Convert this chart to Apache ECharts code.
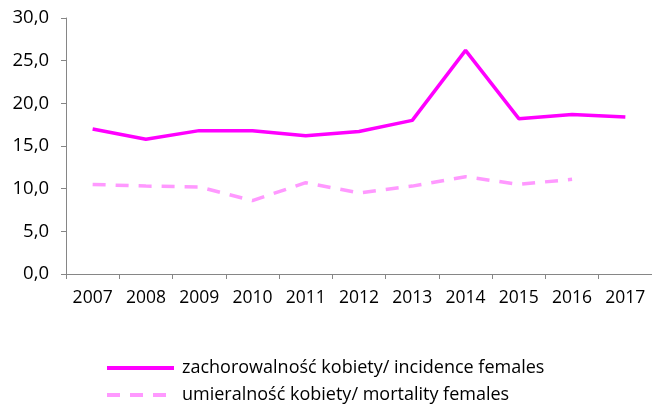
<!DOCTYPE html>
<html>
<head>
<meta charset="utf-8">
<script src="https://cdn.jsdelivr.net/npm/echarts@6/dist/echarts.min.js"></script>
<style>
  html, body { margin: 0; padding: 0; background: #fff; }
  #chart { width: 652px; height: 407px; }
</style>
</head>
<body>
<div id="chart"></div>
<script>
// years on the x axis
const years = ['2007', '2008', '2009', '2010', '2011', '2012', '2013', '2014', '2015', '2016', '2017'];
// incidence, females
const incidence = [17.0, 15.8, 16.8, 16.8, 16.2, 16.7, 18.0, 26.2, 18.2, 18.7, 18.4];
// mortality, females (no value for 2017)
const mortality = [10.5, 10.3, 10.2, 8.6, 10.7, 9.5, 10.3, 11.4, 10.5, 11.1, null];

const seriesNames = ['zachorowalność kobiety/ incidence females', 'umieralność kobiety/ mortality females'];
const font = 'Open Sans';

const chart = echarts.init(document.getElementById('chart'));
const option = {
    animation: false,
    grid: {
        left: 66,
        right: 0,
        top: 18,
        bottom: 133,
    },
    legend: {
        orient: 'vertical',
        left: 100,
        top: 353,
        height: 60,
        itemWidth: 67,
        itemHeight: 14,
        itemGap: 7,
        itemStyle: { opacity: 0 },
        lineStyle: { width: 4 },
        textStyle: {
            fontFamily: font,
            fontSize: 18,
            lineHeight: 20,
            color: '#000',
            padding: [0, 0, 0, 3],
        },
        data: seriesNames,
    },
    xAxis: {
        type: 'category',
        data: years,
        boundaryGap: true,
        axisLine: { lineStyle: { color: '#868686', width: 1 } },
        axisTick: { show: true, length: 5, lineStyle: { color: '#868686' } },
        axisLabel: {
            interval: 0,
            color: '#000',
            fontFamily: font,
            fontSize: 17.5,
            margin: 15,
        },
    },
    yAxis: {
        type: 'value',
        min: 0,
        max: 30,
        interval: 5,
        splitLine: { show: false },
        axisLine: { show: true, lineStyle: { color: '#868686', width: 1 } },
        axisTick: { show: true, length: 5, lineStyle: { color: '#868686' } },
        axisLabel: {
            color: '#000',
            fontFamily: font,
            fontSize: 18.5,
            margin: 17,
            formatter: (v) => v.toFixed(1).replace('.', ','),
        },
    },
    series: [
        {
            name: seriesNames[0],
            type: 'line',
            data: incidence,
            symbol: 'none',
            lineStyle: { color: '#FF00FF', width: 3.5 },
            itemStyle: { color: '#FF00FF' },
        },
        {
            name: seriesNames[1],
            type: 'line',
            data: mortality,
            symbol: 'none',
            lineStyle: { color: '#FF99FF', width: 3.5, type: [13, 10] },
            itemStyle: { color: '#FF99FF' },
        },
    ],
};
chart.setOption(option);
</script>
</body>
</html>
